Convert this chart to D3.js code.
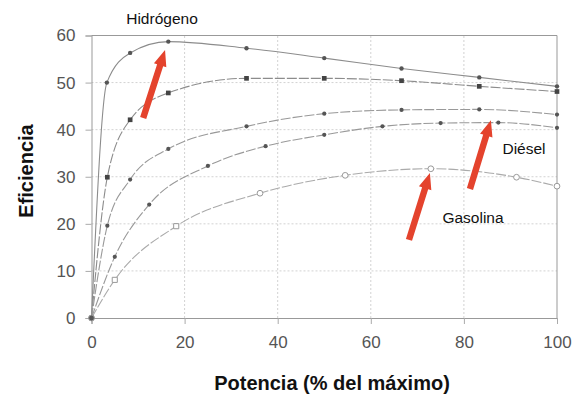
<!DOCTYPE html>
<html><head><meta charset="utf-8">
<script src="https://cdn.jsdelivr.net/npm/d3@7"></script>
<style>body{margin:0;background:#fff}svg{display:block;font-family:"Liberation Sans",Arial,sans-serif}</style>
</head><body><svg id="c" width="580" height="395"></svg>
<script>
const hidrogenoX = [0, 3.3, 8.3, 16.5, 33.3, 50, 66.6, 83.3, 100];
const hidrogenoY = [0, 50, 56.3, 58.7, 57.3, 55.2, 53.0, 51.1, 49.2];
const serie2X = [0, 3.4, 8.3, 16.5, 33.3, 50, 66.6, 83.3, 100];
const serie2Y = [0, 29.9, 42.1, 47.8, 50.9, 50.9, 50.4, 49.2, 48.1];
const serie3X = [0, 3.4, 8.3, 16.5, 33.3, 50, 66.6, 83.3, 100];
const serie3Y = [0, 19.6, 29.4, 35.9, 40.7, 43.4, 44.2, 44.3, 43.2];
const dieselX = [0, 5, 12.4, 25, 37.4, 50, 62.5, 75, 87.4, 100];
const dieselY = [0, 13.0, 24.1, 32.3, 36.5, 38.9, 40.7, 41.4, 41.5, 40.4];
const gasolinaX = [0, 5, 18.2, 36.2, 54.5, 72.9, 91.3, 100];
const gasolinaY = [0, 8.1, 19.5, 26.5, 30.3, 31.7, 29.9, 28.0];
const xTicks = [0, 20, 40, 60, 80, 100];
const yTicks = [0, 10, 20, 30, 40, 50, 60];
const labels = ["Hidrógeno", "Diésel", "Gasolina"];
const xTitle = "Potencia (% del máximo)";
const yTitle = "Eficiencia";

const W = 580, H = 395, m = {l: 91.5, r: 23, t: 35.5, b: 77};
const svg = d3.select("#c");
const x = d3.scaleLinear().domain([0, 100]).range([m.l, W - m.r]);
const y = d3.scaleLinear().domain([0, 60]).range([H - m.b, m.t]);

// grid
const g = svg.append("g");
g.selectAll(".gx").data(xTicks.slice(1, -1)).join("line")
  .attr("x1", d => x(d)).attr("x2", d => x(d)).attr("y1", y(0)).attr("y2", y(60))
  .attr("stroke", "#d2d2d2").attr("stroke-dasharray", "2,2");
g.selectAll(".gy").data(yTicks.slice(1, -1)).join("line")
  .attr("y1", d => y(d)).attr("y2", d => y(d)).attr("x1", x(0)).attr("x2", x(100))
  .attr("stroke", "#d2d2d2").attr("stroke-dasharray", "2,2");

// axes
const xa = svg.append("g").attr("transform", `translate(0,${y(0)})`)
  .call(d3.axisBottom(x).tickValues(xTicks).tickSize(6).tickPadding(12));
const ya = svg.append("g").attr("transform", `translate(${x(0)},0)`)
  .call(d3.axisLeft(y).tickValues(yTicks).tickSize(6).tickPadding(10));
[xa, ya].forEach(a => {
  a.select(".domain").attr("stroke", "#999");
  a.selectAll(".tick line").attr("stroke", "#aaa");
  a.selectAll("text").attr("fill", "#555").attr("font-size", 17).attr("font-family", "Liberation Sans, Arial, sans-serif");
});
// frame top/right
svg.append("line").attr("x1", x(0)).attr("x2", x(100)).attr("y1", y(60)).attr("y2", y(60)).attr("stroke", "#999");
svg.append("line").attr("x1", x(100)).attr("x2", x(100)).attr("y1", y(60)).attr("y2", y(0)).attr("stroke", "#999");

const series = [
  {xs: hidrogenoX, ys: hidrogenoY, stroke: "#8c8c8c", dash: null, sym: d3.symbolCircle, size: 15, fill: "#555", open: false},
  {xs: serie2X, ys: serie2Y, stroke: "#8c8c8c", dash: "10,2", sym: d3.symbolSquare, size: 22, fill: "#444", open: false},
  {xs: serie3X, ys: serie3Y, stroke: "#999", dash: "10,2", sym: d3.symbolCircle, size: 14, fill: "#555", open: false},
  {xs: dieselX, ys: dieselY, stroke: "#999", dash: "10,2", sym: d3.symbolCircle, size: 14, fill: "#555", open: false},
  {xs: gasolinaX, ys: gasolinaY, stroke: "#aaa", dash: "10,2", sym: d3.symbolCircle, size: 26, fill: "#fff", open: true}
];
const line = d3.line().x(d => x(d[0])).y(d => y(d[1])).curve(d3.curveMonotoneX);
series.forEach(s => {
  const pts = s.xs.map((v, i) => [v, s.ys[i]]);
  svg.append("path").datum(pts).attr("d", line).attr("fill", "none")
    .attr("stroke", s.stroke).attr("stroke-width", 1.1).attr("stroke-dasharray", s.dash);
  svg.append("g").selectAll("path").data(pts).join("path")
    .attr("transform", d => `translate(${x(d[0])},${y(d[1])})`)
    .attr("d", (d, i) => d3.symbol().type(i === 0 ? d3.symbolCircle : (s.open && d[0] < 20 ? d3.symbolSquare : s.sym)).size(s.size)())
    .attr("fill", (d, i) => i === 0 ? "#555" : s.fill).attr("stroke", s.open ? "#999" : "none").attr("stroke-width", 1);
});

// arrows (annotation, in data coordinates)
const arrows = [[[11.1, 42.5], [15.8, 56.9]], [[81.3, 27.4], [85.8, 42.0]], [[68.2, 16.6], [72.7, 30.8]]];
arrows.forEach(([a, b]) => {
  const x1 = x(a[0]), y1 = y(a[1]), x2 = x(b[0]), y2 = y(b[1]);
  const L = Math.hypot(x2 - x1, y2 - y1), ux = (x2 - x1) / L, uy = (y2 - y1) / L;
  const px = -uy, py = ux, hl = 16, hw = 6.5, sw = 3.2;
  const bx = x2 - ux * hl, by = y2 - uy * hl;
  const p = [[x1 + px * sw, y1 + py * sw], [bx + px * sw, by + py * sw], [bx + px * hw, by + py * hw], [x2, y2],
    [bx - px * hw, by - py * hw], [bx - px * sw, by - py * sw], [x1 - px * sw, y1 - py * sw]];
  svg.append("polygon").attr("points", p.map(q => q.join(",")).join(" ")).attr("fill", "#e4432d");
});

// labels
svg.append("text").attr("x", 162).attr("y", 24).attr("text-anchor", "middle").attr("font-size", 15.5).attr("fill", "#111").text(labels[0]);
svg.append("text").attr("x", 524).attr("y", 154).attr("text-anchor", "middle").attr("font-size", 15.5).attr("fill", "#111").text(labels[1]);
svg.append("text").attr("x", 473).attr("y", 223).attr("text-anchor", "middle").attr("font-size", 15.5).attr("fill", "#111").text(labels[2]);

svg.append("text").attr("x", 332).attr("y", 390).attr("text-anchor", "middle").attr("font-size", 20).attr("font-weight", "bold").attr("fill", "#111").text(xTitle);
svg.append("text").attr("transform", "translate(33,171) rotate(-90)").attr("text-anchor", "middle").attr("font-size", 20).attr("font-weight", "bold").attr("fill", "#111").text(yTitle);
</script></body></html>
